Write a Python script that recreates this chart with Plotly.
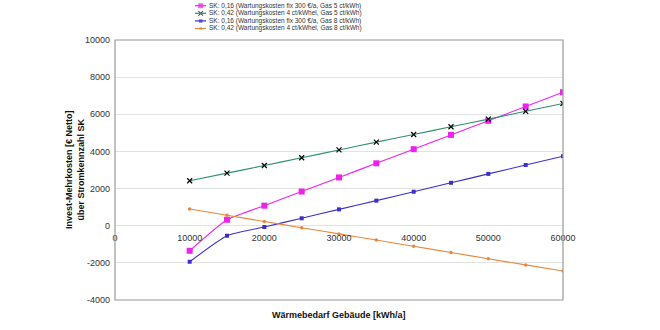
import plotly.graph_objects as go

waermebedarf = [10000, 15000, 20000, 25000, 30000, 35000, 40000, 45000, 50000, 55000, 60000]
sk016_gas5 = [-1350, 320, 1080, 1840, 2600, 3360, 4120, 4890, 5650, 6420, 7190]
sk042_gas5 = [2420, 2830, 3240, 3660, 4080, 4500, 4910, 5330, 5740, 6160, 6580]
sk016_gas8 = [-1940, -540, -70, 400, 880, 1350, 1830, 2310, 2790, 3270, 3740]
sk042_gas8 = [900, 560, 230, -110, -440, -770, -1110, -1440, -1780, -2110, -2440]

names = [
    "SK: 0,16 (Wartungskosten fix 300 €/a, Gas 5 ct/kWh)",
    "SK: 0,42 (Wartungskosten 4 ct/kWhel, Gas 5 ct/kWh)",
    "SK: 0,16 (Wartungskosten fix 300 €/a, Gas 8 ct/kWh)",
    "SK: 0,42 (Wartungskosten 4 ct/kWhel, Gas 8 ct/kWh)",
]
y_ticks = [-4000, -2000, 0, 2000, 4000, 6000, 8000, 10000]
x_ticks = [0, 10000, 20000, 30000, 40000, 50000, 60000]

FONT = "Liberation Sans, Arial, sans-serif"
colors = ["#EE22EE", "#2E9070", "#3B2FC8", "#E8883A"]
marker_colors = ["#EE22EE", "#000000", "#3B2FC8", "#E8883A"]
symbols = ["square", "x-thin", "square", "circle"]
msizes = [6, 5, 4, 3.5]
series = [sk016_gas5, sk042_gas5, sk016_gas8, sk042_gas8]

W, H = 660, 330
PL, PR, PT, PB = 115, 563, 40, 300  # plot area in pixels


def fx(px):
    return px / W


def fy(py):
    return (H - py) / H


fig = go.Figure()
for i in range(4):
    fig.add_trace(go.Scatter(
        x=waermebedarf, y=series[i], name=names[i], mode="lines+markers", showlegend=False,
        line=dict(color=colors[i], width=1.1, shape="spline", smoothing=0.5),
        marker=dict(symbol=symbols[i], size=msizes[i], color=marker_colors[i],
                    line=dict(color=marker_colors[i], width=1.2 if i == 1 else 0))))

legend_rows = [5.7, 13.3, 20.9, 28.5]
annotations = []
shapes = [dict(type="rect", xref="x domain", yref="y domain", x0=0, x1=1, y0=0, y1=1,
               line=dict(color="#9a9a9a", width=1.2), layer="above")]
for i, py in enumerate(legend_rows):
    shapes.append(dict(type="line", xref="paper", yref="paper", x0=fx(195), x1=fx(206),
                       y0=fy(py), y1=fy(py), line=dict(color=colors[i], width=1.2)))
    annotations.append(dict(text=names[i], xref="paper", yref="paper", x=fx(207), y=fy(py),
                            xanchor="left", yanchor="middle", showarrow=False,
                            font=dict(size=6.5, color="#333", family=FONT)))

# legend markers on a tiny overlay axis
fig.add_trace(go.Scatter(
    x=[0, 0, 0, 0], y=[0, 1, 2, 3], mode="markers", showlegend=False, hoverinfo="skip",
    xaxis="x2", yaxis="y2",
    marker=dict(symbol=symbols, size=[5, 4.5, 3.5, 3], color=marker_colors,
                line=dict(color=marker_colors, width=[0, 1.1, 0, 0]))))

annotations += [
    dict(text="<b>Wärmebedarf Gebäude [kWh/a]</b>", xref="paper", yref="paper",
         x=fx((PL + PR) / 2), y=fy(315), xanchor="center", yanchor="middle", showarrow=False,
         font=dict(size=9, color="#111")),
    dict(text="<b>Invest-Mehrkosten [€ Netto]<br>über Stromkennzahl SK</b>", xref="paper", yref="paper",
         x=fx(75), y=fy((PT + PB) / 2), xanchor="center", yanchor="middle", showarrow=False,
         textangle=-90, font=dict(size=9, color="#111")),
]

step = 7.6
y_top_val = -legend_rows[0] / step
y_bot_val = (36 - legend_rows[0]) / step

fig.update_layout(
    template="none",
    width=W, height=H,
    margin=dict(l=0, r=0, t=0, b=0, pad=0),
    paper_bgcolor="white", plot_bgcolor="white",
    font=dict(family=FONT, size=9, color="#222"),
    showlegend=False,
    xaxis=dict(domain=[fx(PL), fx(PR)], range=[0, 60000], tickvals=x_ticks,
               ticktext=[str(v) for v in x_ticks],
               anchor="free", position=fy(PB) + (fy(PT) - fy(PB)) * 4000 / 14000,
               showgrid=False, zeroline=False, automargin=False, ticklabelstandoff=5,
               showline=False, ticks="", tickfont=dict(size=9, color="#333")),
    yaxis=dict(domain=[fy(PB), fy(PT)], range=[-4000, 10000], tickvals=y_ticks,
               ticktext=[str(v) for v in y_ticks], automargin=False,
               showgrid=True, gridcolor="#e2e2e2", gridwidth=1, zeroline=False,
               showline=False, ticks="", ticklabelstandoff=4, tickfont=dict(size=9, color="#333")),
    xaxis2=dict(domain=[fx(200.7 - 20), fx(200.7 + 20)], range=[-1, 1], visible=False,
                fixedrange=True, anchor="y2", automargin=False),
    yaxis2=dict(domain=[fy(36), 1.0], range=[y_bot_val, y_top_val], visible=False,
                fixedrange=True, anchor="x2", automargin=False),
    shapes=shapes,
    annotations=annotations,
)

fig.write_html("out.html")
